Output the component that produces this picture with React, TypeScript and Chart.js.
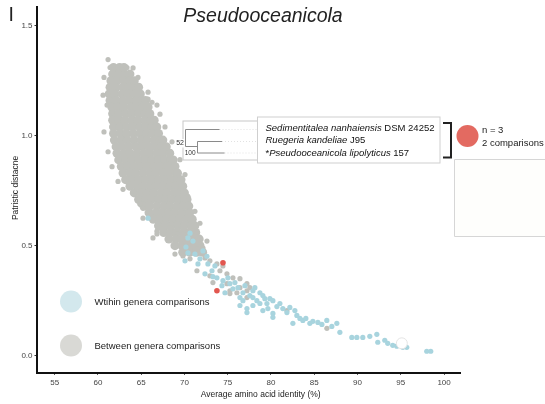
import { useEffect, useRef } from "react";
import { Chart, registerables } from "chart.js";

Chart.register(...registerables);

// ---- axes ----
const xTicks = [55, 60, 65, 70, 75, 80, 85, 90, 95, 100];
const yTicks = [0, 0.5, 1.0, 1.5];

const titleText = "Pseudooceanicola";
const xTitle = "Average amino acid identity (%)";
const yTitle = "Patristic distacne";
const legendLabels = ["Wtihin genera comparisons", "Between genera comparisons"];

// ---- between-genera comparisons: dense core, by row [patristic distance, AAI values] ----
const betweenCoreRows: [number, number[]][] = [
  [1.31, [61.8, 62.5, 63.0]],
  [1.28, [61.7, 62.4, 63.1, 63.7]],
  [1.25, [61.5, 62.2, 63.0, 63.7, 64.2]],
  [1.22, [61.4, 62.1, 62.9, 63.6, 64.3, 64.7]],
  [1.19, [61.3, 62.0, 62.8, 63.5, 64.2, 64.9]],
  [1.16, [61.4, 62.1, 62.9, 63.6, 64.4, 65.1, 65.5]],
  [1.13, [61.6, 62.3, 63.0, 63.8, 64.5, 65.2, 65.8]],
  [1.10, [61.7, 62.4, 63.2, 63.9, 64.7, 65.4, 66.0]],
  [1.07, [61.7, 62.4, 63.1, 63.9, 64.6, 65.4, 66.1, 66.5]],
  [1.04, [61.8, 62.5, 63.3, 64.0, 64.8, 65.5, 66.2, 66.8]],
  [1.01, [61.8, 62.6, 63.3, 64.1, 64.9, 65.6, 66.3, 67.0]],
  [0.98, [61.9, 62.7, 63.4, 64.2, 65.0, 65.7, 66.5, 67.2, 67.5]],
  [0.95, [62.1, 62.8, 63.6, 64.4, 65.1, 65.9, 66.6, 67.3, 67.9]],
  [0.92, [62.2, 63.0, 63.7, 64.5, 65.3, 66.0, 66.8, 67.5, 68.3]],
  [0.89, [62.4, 63.2, 63.9, 64.7, 65.5, 66.2, 67.0, 67.7, 68.4, 68.7]],
  [0.86, [62.7, 63.4, 64.2, 65.0, 65.7, 66.5, 67.2, 68.0, 68.7, 68.9]],
  [0.83, [62.9, 63.7, 64.4, 65.2, 66.0, 66.7, 67.5, 68.2, 69.0, 69.2]],
  [0.80, [63.2, 64.0, 64.7, 65.5, 66.3, 67.0, 67.8, 68.5, 69.2, 69.6]],
  [0.77, [63.7, 64.5, 65.2, 66.0, 66.7, 67.5, 68.3, 69.0, 69.8]],
  [0.74, [64.2, 65.0, 65.7, 66.5, 67.3, 68.0, 68.8, 69.5, 70.0]],
  [0.71, [64.7, 65.5, 66.2, 67.0, 67.8, 68.5, 69.3, 70.0, 70.3]],
  [0.68, [65.3, 66.0, 66.8, 67.6, 68.3, 69.1, 69.8, 70.5]],
  [0.65, [65.9, 66.7, 67.4, 68.2, 68.9, 69.7, 70.4, 70.6]],
  [0.62, [66.4, 67.2, 67.9, 68.7, 69.4, 70.2, 70.9]],
  [0.59, [67.0, 67.8, 68.5, 69.3, 70.0, 70.8, 71.2]],
  [0.56, [67.6, 68.4, 69.1, 69.9, 70.6, 71.3]],
  [0.53, [68.2, 69.0, 69.7, 70.5, 71.2, 71.7]],
  [0.50, [68.9, 69.7, 70.4, 71.1, 71.8]],
  [0.47, [69.8, 70.6, 71.4, 72.1]],
];

// ---- between-genera comparisons: scattered points [AAI, distance] ----
const betweenScatter: [number, number][] = [
  [61.17, 1.346], [61.4, 1.31], [62.32, 1.31], [62.9, 1.301], [63.36, 1.31],
  [60.7, 1.265], [60.59, 1.184], [66.25, 1.152], [66.82, 1.139], [65.79, 1.166],
  [67.17, 1.098], [67.75, 1.04], [68.56, 0.972], [69.48, 0.891], [61.05, 1.139],
  [60.7, 1.017], [61.17, 0.927], [61.63, 0.859], [62.32, 0.792], [62.9, 0.756],
  [64.86, 0.688], [65.21, 0.625], [66.82, 0.566], [70.4, 0.724], [71.21, 0.656],
  [71.79, 0.602], [66.82, 0.553], [67.17, 0.58], [68.9, 0.462], [69.83, 0.453],
  [70.64, 0.44], [72.37, 0.444], [71.44, 0.386], [72.94, 0.363], [73.29, 0.332],
  [74.91, 0.327], [75.25, 0.295], [76.06, 0.286], [77.22, 0.295], [77.56, 0.309],
  [77.22, 0.327], [76.41, 0.35], [75.6, 0.354], [74.91, 0.372], [74.1, 0.386],
  [74.44, 0.408], [73.75, 0.417], [72.94, 0.431], [71.79, 0.467], [71.44, 0.507],
  [70.29, 0.521], [69.83, 0.553], [69.13, 0.575], [68.33, 0.58], [70.98, 0.566],
  [71.79, 0.535], [72.6, 0.521], [72.14, 0.489], [70.64, 0.485], [66.36, 0.535],
  [75.25, 0.282], [77.22, 0.264], [81.84, 0.205], [86.46, 0.124], [76.41, 0.309],
  [64.06, 1.308], [64.63, 1.265], [65.79, 1.198], [68.33, 0.927], [70.06, 0.823],
  [64.05, 0.747], [64.86, 0.692], [65.21, 0.67],
];

// ---- within-genera comparisons [AAI, distance] ----
const withinPoints: [number, number][] = [
  [65.79, 0.625], [70.4, 0.535], [70.64, 0.557], [70.98, 0.521], [70.17, 0.494],
  [70.4, 0.467], [71.21, 0.462], [72.14, 0.476], [72.6, 0.452], [70.06, 0.431],
  [71.56, 0.417], [72.71, 0.417], [73.18, 0.386], [72.37, 0.372], [73.29, 0.359],
  [73.75, 0.354], [74.45, 0.341], [75.02, 0.354], [74.33, 0.318], [75.25, 0.327],
  [75.6, 0.304], [76.18, 0.309], [76.76, 0.286], [76.41, 0.264], [77.56, 0.273],
  [77.91, 0.295], [78.37, 0.25], [78.72, 0.237], [77.91, 0.228], [76.76, 0.25],
  [74.68, 0.286], [76.41, 0.228], [77.22, 0.214], [77.22, 0.196], [79.29, 0.259],
  [79.06, 0.205], [77.91, 0.264], [78.72, 0.286], [79.87, 0.259], [80.22, 0.174],
  [79.06, 0.273], [79.53, 0.237], [80.22, 0.25], [81.03, 0.237], [80.22, 0.192],
  [81.84, 0.196], [82.18, 0.219], [82.53, 0.147], [82.99, 0.183], [82.76, 0.205],
  [83.68, 0.16], [84.03, 0.169], [84.49, 0.147], [84.84, 0.156], [85.42, 0.151],
  [85.88, 0.142], [86.45, 0.16], [87.03, 0.133], [87.61, 0.147], [87.96, 0.106],
  [89.34, 0.083], [89.92, 0.083], [90.61, 0.083], [91.42, 0.088], [92.23, 0.097],
  [92.34, 0.061], [93.15, 0.07], [93.49, 0.056], [94.07, 0.047], [94.54, 0.043],
  [95.23, 0.038], [95.69, 0.038], [98.0, 0.02], [98.46, 0.02], [73.52, 0.408],
  [71.79, 0.44], [75.83, 0.332], [76.99, 0.318], [78.14, 0.309], [79.64, 0.214],
  [81.37, 0.214], [83.34, 0.169], [80.68, 0.223],
];

// ---- comparisons involving the Pseudooceanicola clade ----
const focalPoints: [number, number][] = [
  [74.45, 0.422],
  [73.75, 0.295],
];

// open marker near the high-identity end
const openMarker: [number, number][] = [[95.12, 0.056]];

// ---- clade tree inset ----
const treeTaxa: [string, boolean][][] = [
  [["Sedimentitalea nanhaiensis", true], [" DSM 24252", false]],
  [["Ruegeria kandeliae", true], [" J95", false]],
  [["*", false], ["Pseudooceanicola lipolyticus", true], [" 157", false]],
];
const bootstrapValues = ["52", "100"];
const cladeSize = "n = 3";
const cladeComparisons = "2 comparisons";

const FONT = '"Liberation Sans", Arial, Helvetica, sans-serif';
const GRAY = "#bfc0bb";
const BLUE = "rgb(168,212,222)";
const RED = "#e2574f";

const toXY = (pts: [number, number][]) => pts.map(([x, y]) => ({ x, y }));

const overlay = {
  id: "overlay",
  afterDraw(chart: Chart) {
    const ctx = chart.ctx;
    ctx.save();

    // panel mark and title
    ctx.fillStyle = "#222";
    ctx.textBaseline = "alphabetic";
    ctx.textAlign = "left";
    ctx.font = `19.5px ${FONT}`;
    ctx.fillText("I", 8.5, 20.7);
    ctx.textAlign = "center";
    ctx.font = `italic 19.5px ${FONT}`;
    ctx.fillText(titleText, 263, 21.5);

    // axis titles
    ctx.font = `8.5px ${FONT}`;
    ctx.fillStyle = "#222";
    ctx.fillText(xTitle, 260.7, 397);
    ctx.save();
    ctx.translate(17.5, 188);
    ctx.rotate(-Math.PI / 2);
    ctx.fillText(yTitle, 0, 0);
    ctx.restore();

    // legend
    const legendRows: [string, number, number][] = [
      ["#d3e8ed", 301.5, 0],
      ["#d9d9d5", 345.5, 1],
    ];
    ctx.textAlign = "left";
    ctx.textBaseline = "middle";
    ctx.font = `9.5px ${FONT}`;
    for (const [col, cy, i] of legendRows) {
      ctx.fillStyle = col;
      ctx.beginPath();
      ctx.arc(71, cy, 11, 0, Math.PI * 2);
      ctx.fill();
      ctx.fillStyle = "#222";
      ctx.fillText(legendLabels[i], 94.5, cy + 0.5);
    }

    // empty side panel
    ctx.fillStyle = "#fefefc";
    ctx.fillRect(454.5, 159.5, 92, 77);
    ctx.strokeStyle = "#d6d6d6";
    ctx.lineWidth = 1;
    ctx.beginPath();
    ctx.moveTo(546, 159.5);
    ctx.lineTo(454.5, 159.5);
    ctx.lineTo(454.5, 236.5);
    ctx.lineTo(546, 236.5);
    ctx.stroke();

    // tree box
    ctx.fillStyle = "#fff";
    ctx.fillRect(183, 121, 80, 39);
    ctx.strokeStyle = "#c8c8c8";
    ctx.strokeRect(183, 121, 80, 39);

    // dotted leaders from tips to labels
    ctx.strokeStyle = "#e2e2e2";
    ctx.setLineDash([1, 2]);
    ctx.beginPath();
    ctx.moveTo(219.5, 129.5); ctx.lineTo(258, 129.5);
    ctx.moveTo(222, 141.5); ctx.lineTo(258, 141.5);
    ctx.moveTo(224.5, 153); ctx.lineTo(258, 153);
    ctx.stroke();
    ctx.setLineDash([]);

    // branches
    ctx.strokeStyle = "#8a8a8a";
    ctx.lineWidth = 1;
    ctx.beginPath();
    ctx.moveTo(219.5, 129.5); ctx.lineTo(185.5, 129.5); ctx.lineTo(185.5, 146.5); ctx.lineTo(197.5, 146.5);
    ctx.moveTo(222, 141.5); ctx.lineTo(197.5, 141.5); ctx.lineTo(197.5, 153); ctx.lineTo(224.5, 153);
    ctx.stroke();

    // bootstrap values
    ctx.fillStyle = "#fff";
    ctx.fillRect(176, 139, 8.5, 8.5);
    ctx.fillStyle = "#333";
    ctx.textAlign = "right";
    ctx.font = `7px ${FONT}`;
    ctx.fillText(bootstrapValues[0], 184, 143.5);
    ctx.font = `6.5px ${FONT}`;
    ctx.fillText(bootstrapValues[1], 195.5, 153);

    // label box
    ctx.fillStyle = "#fff";
    ctx.fillRect(257.5, 117, 182.5, 46);
    ctx.strokeStyle = "#cfcfcf";
    ctx.strokeRect(257.5, 117, 182.5, 46);

    ctx.textAlign = "left";
    ctx.textBaseline = "alphabetic";
    ctx.fillStyle = "#111";
    const baselines = [130.8, 143.4, 156];
    treeTaxa.forEach((segs, i) => {
      let x = 265.5;
      for (const [text, italic] of segs) {
        ctx.font = `${italic ? "italic " : ""}9.5px ${FONT}`;
        ctx.fillText(text, x, baselines[i]);
        x += ctx.measureText(text).width;
      }
    });

    // clade bracket
    ctx.strokeStyle = "#222";
    ctx.lineWidth = 2;
    ctx.beginPath();
    ctx.moveTo(443, 123);
    ctx.lineTo(451, 123);
    ctx.lineTo(451, 157.5);
    ctx.lineTo(443, 157.5);
    ctx.stroke();

    // clade marker and counts
    ctx.fillStyle = "#e36a61";
    ctx.beginPath();
    ctx.arc(467.5, 136, 11, 0, Math.PI * 2);
    ctx.fill();
    ctx.fillStyle = "#222";
    ctx.font = `9.5px ${FONT}`;
    ctx.fillText(cladeSize, 482, 132.7);
    ctx.fillText(cladeComparisons, 482, 145.5);

    ctx.restore();
  },
};

export default function App() {
  const ref = useRef<HTMLCanvasElement>(null);

  useEffect(() => {
    const canvas = ref.current;
    if (!canvas) return;
    const coreData = betweenCoreRows.flatMap(([y, xs]) => xs.map((x) => ({ x, y })));
    const tickFont = { family: "Liberation Sans", size: 8 };

    const chart = new Chart(canvas, {
      type: "scatter",
      data: {
        datasets: [
          {
            label: "open",
            data: toXY(openMarker),
            pointRadius: 5.5,
            pointBackgroundColor: "#ffffff",
            pointBorderColor: "#e4e4e4",
            pointBorderWidth: 1,
            order: 0,
          },
          {
            label: "clade",
            data: toXY(focalPoints),
            pointRadius: 2.8,
            pointBackgroundColor: RED,
            pointBorderWidth: 0,
            order: 1,
          },
          {
            label: legendLabels[0],
            data: toXY(withinPoints),
            pointRadius: 2.6,
            pointBackgroundColor: BLUE,
            pointBorderWidth: 0,
            order: 2,
          },
          {
            label: legendLabels[1],
            data: toXY(betweenScatter),
            pointRadius: 2.6,
            pointBackgroundColor: GRAY,
            pointBorderWidth: 0,
            order: 3,
          },
          {
            label: legendLabels[1] + " core",
            data: coreData,
            pointRadius: 4.5,
            pointBackgroundColor: GRAY,
            pointBorderWidth: 0,
            order: 4,
          },
        ],
      },
      options: {
        responsive: false,
        devicePixelRatio: 1,
        animation: false,
        events: [],
        layout: { padding: { top: 4, right: 84.5, left: 0, bottom: 0 } },
        plugins: {
          legend: { display: false },
          tooltip: { enabled: false },
          title: { display: false },
        },
        scales: {
          x: {
            type: "linear",
            min: 52.9,
            max: 101.9,
            afterBuildTicks: (s: any) => {
              s.ticks = xTicks.map((v) => ({ value: v }));
            },
            afterFit: (s: any) => {
              s.height = 31.2;
            },
            ticks: {
              font: tickFont,
              color: "#444",
              padding: 3,
              maxRotation: 0,
              autoSkip: false,
            },
            grid: { drawOnChartArea: false, tickLength: 2, color: "#333" },
            border: { display: true, color: "#111", width: 2 },
          },
          y: {
            type: "linear",
            min: -0.078,
            max: 1.586,
            afterBuildTicks: (s: any) => {
              s.ticks = yTicks.map((v) => ({ value: v }));
            },
            afterFit: (s: any) => {
              s.width = 36.5;
            },
            ticks: {
              font: tickFont,
              color: "#444",
              padding: 2,
              callback: (v: any) => Number(v).toFixed(1),
            },
            grid: { drawOnChartArea: false, tickLength: 2, color: "#333" },
            border: { display: true, color: "#111", width: 2 },
          },
        },
      },
      plugins: [overlay],
    });

    return () => chart.destroy();
  }, []);

  return (
    <div style={{ position: "fixed", left: 0, top: 0, width: 545, height: 404, background: "#fff" }}>
      <canvas ref={ref} width={545} height={404} style={{ display: "block", width: 545, height: 404 }} />
    </div>
  );
}
